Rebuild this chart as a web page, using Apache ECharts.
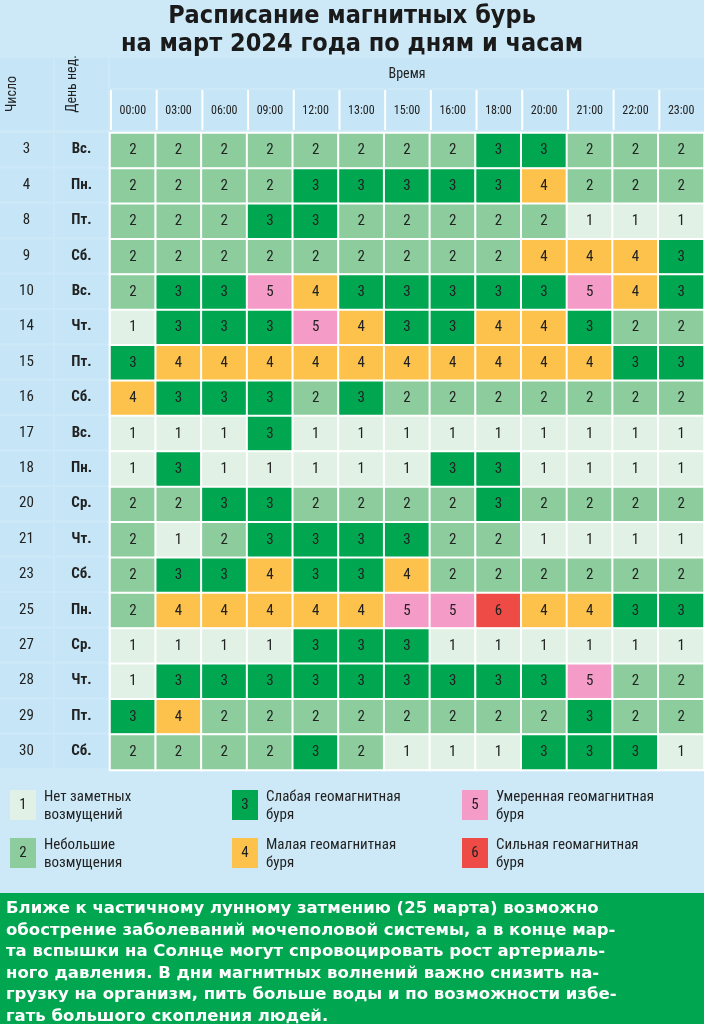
<!DOCTYPE html>
<html><head><meta charset="utf-8">
<script src="https://cdn.jsdelivr.net/npm/echarts@6/dist/echarts.min.js"></script>
<style>body{margin:0;background:#cde9f8}#c{width:704px;height:1024px}</style>
</head><body><div id="c"></div>
<script>
var hours = ['00:00','03:00','06:00','09:00','12:00','13:00','15:00','16:00','18:00','20:00','21:00','22:00','23:00'];
var days = ['3','4','8','9','10','14','15','16','17','18','20','21','23','25','27','28','29','30'];
var dows = ['Вс.','Пн.','Пт.','Сб.','Вс.','Чт.','Пт.','Сб.','Вс.','Пн.','Ср.','Чт.','Сб.','Пн.','Ср.','Чт.','Пт.','Сб.'];
var levels = [
	[2,2,2,2,2,2,2,2,3,3,2,2,2],
	[2,2,2,2,3,3,3,3,3,4,2,2,2],
	[2,2,2,3,3,2,2,2,2,2,1,1,1],
	[2,2,2,2,2,2,2,2,2,4,4,4,3],
	[2,3,3,5,4,3,3,3,3,3,5,4,3],
	[1,3,3,3,5,4,3,3,4,4,3,2,2],
	[3,4,4,4,4,4,4,4,4,4,4,3,3],
	[4,3,3,3,2,3,2,2,2,2,2,2,2],
	[1,1,1,3,1,1,1,1,1,1,1,1,1],
	[1,3,1,1,1,1,1,3,3,1,1,1,1],
	[2,2,3,3,2,2,2,2,3,2,2,2,2],
	[2,1,2,3,3,3,3,2,2,1,1,1,1],
	[2,3,3,4,3,3,4,2,2,2,2,2,2],
	[2,4,4,4,4,4,5,5,6,4,4,3,3],
	[1,1,1,1,3,3,3,1,1,1,1,1,1],
	[1,3,3,3,3,3,3,3,3,3,5,2,2],
	[3,4,2,2,2,2,2,2,2,2,3,2,2],
	[2,2,2,2,3,2,1,1,1,3,3,3,1]
];
var levelNames = ['Нет заметных\nвозмущений','Небольшие\nвозмущения','Слабая геомагнитная\nбуря','Малая геомагнитная\nбуря','Умеренная геомагнитная\nбуря','Сильная геомагнитная\nбуря'];
var colors = ['#e2f1e5','#8ccc9d','#00a650','#fcc24b','#f49bc8','#ee4b47'];
var note = ['Ближе к частичному лунному затмению (25 марта) возможно',
	'обострение заболеваний мочеполовой системы, а в конце мар-',
	'та вспышки на Солнце могут спровоцировать рост артериаль-',
	'ного давления. В дни магнитных волнений важно снизить на-',
	'грузку на организм, пить больше воды и по возможности избе-',
	'гать большого скопления людей.'];

var chart = echarts.init(document.getElementById('c'));
var cells = [];
levels.forEach(function(row, i){
	row.forEach(function(v, j){ cells.push([j, i, v]); });
});
var labelCells = [];
days.forEach(function(d, i){
	labelCells.push([0, i]);
	labelCells.push([1, i]);
});

var font = 'Roboto Condensed, DejaVu Sans Condensed, sans-serif';
var graphics = [
	{type:'text', x:352, y:2, style:{text:'Расписание магнитных бурь\nна март 2024 года по дням и часам', font:'bold 25px DejaVu Sans Condensed', fill:'#1a1a1a', align:'center', lineHeight:28}},
	{type:'rect', shape:{x:110, y:58, width:594, height:30}, style:{fill:'#c6e6f7'}},
	{type:'rect', shape:{x:110, y:90, width:594, height:40}, style:{fill:'#c6e6f7'}},
	{type:'rect', shape:{x:0, y:58, width:53, height:72}, style:{fill:'#c6e6f7'}},
	{type:'rect', shape:{x:55, y:58, width:53, height:72}, style:{fill:'#c6e6f7'}},
	{type:'text', x:407, y:74, style:{text:'Время', font:'14px '+font, fill:'#222', align:'center', verticalAlign:'middle'}},
	{type:'text', x:12, y:94, rotation:Math.PI/2, style:{text:'Число', font:'14px '+font, fill:'#222', align:'center', verticalAlign:'middle'}},
	{type:'text', x:72, y:84, rotation:Math.PI/2, style:{text:'День нед.', font:'14px '+font, fill:'#222', align:'center', verticalAlign:'middle'}},
	{type:'rect', shape:{x:0, y:893, width:704, height:131}, style:{fill:'#00a650'}},
	{type:'text', x:6, y:898, style:{text:note.join('\n'), font:'bold 16.5px DejaVu Sans', fill:'#fff', lineHeight:21.5}}
];
hours.forEach(function(h, j){
	graphics.push({type:'rect', shape:{x:110 + j*594/13, y:90, width:2, height:40}, style:{fill:'#fff'}});
});
var legendPos = [[10,790],[10,838],[232,790],[232,838],[462,790],[462,838]];
levelNames.forEach(function(n, k){
	var p = legendPos[k];
	graphics.push({type:'rect', shape:{x:p[0], y:p[1], width:26, height:30}, style:{fill:colors[k]}});
	graphics.push({type:'text', x:p[0]+13, y:p[1]+15, style:{text:String(k+1), font:'15px '+font, fill:'#222', align:'center', verticalAlign:'middle'}});
	graphics.push({type:'text', x:p[0]+34, y:p[1]+16, style:{text:n, font:'15px '+font, fill:'#222', verticalAlign:'middle', lineHeight:18}});
});

chart.setOption({
	backgroundColor:'#cde9f8',
	animation:false,
	grid:[
		{left:110, right:0, top:133, height:637},
		{left:0, width:110, top:133, height:637}
	],
	xAxis:[
		{type:'category', data:hours, position:'top', gridIndex:0,
			axisLine:{show:false}, axisTick:{show:false},
			axisLabel:{fontSize:12, color:'#222', margin:16, fontFamily:font}},
		{type:'category', data:['n','d'], gridIndex:1, show:false}
	],
	yAxis:[
		{type:'category', data:days, inverse:true, gridIndex:0, show:false},
		{type:'category', data:days, inverse:true, gridIndex:1, show:false}
	],
	visualMap:{type:'piecewise', show:false, seriesIndex:0, dimension:2,
		pieces:colors.map(function(c, k){ return {value:k+1, color:c}; })},
	graphic:graphics,
	series:[
		{type:'heatmap', data:cells, xAxisIndex:0, yAxisIndex:0,
			itemStyle:{borderColor:'#fff', borderWidth:2},
			label:{show:true, fontSize:15, color:'#222', fontFamily:font}},
		{type:'custom', xAxisIndex:1, yAxisIndex:1, data:labelCells,
			renderItem:function(params, api){
				var col = api.value(0), row = api.value(1);
				var p = api.coord([col, row]);
				var s = api.size([1, 1]);
				var txt = col === 0 ? days[row] : dows[row];
				return {type:'group', children:[
					{type:'rect', shape:{x:p[0]-s[0]/2, y:p[1]-s[1]/2, width:s[0]-2, height:s[1]-2}, style:{fill:'#c6e6f7'}},
					{type:'text', x:p[0]-1, y:p[1]-1, style:{text:txt, font:(col===1?'bold ':'')+'15px '+font, fill:'#222', align:'center', verticalAlign:'middle'}}
				]};
			}}
	]
});
</script></body></html>
